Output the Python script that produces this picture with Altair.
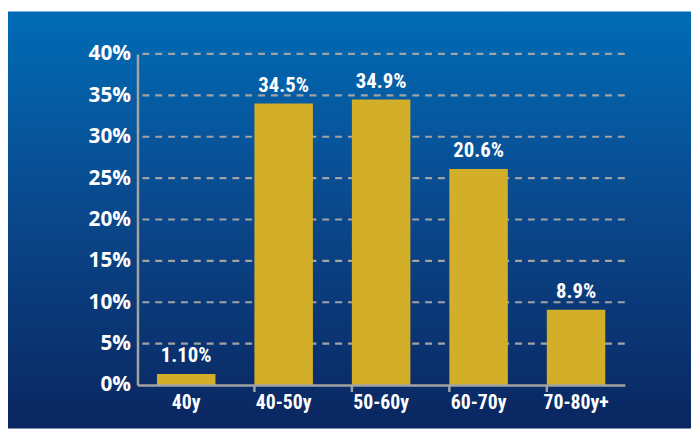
import altair as alt
import pandas as pd

categories = ["40y", "40-50y", "50-60y", "60-70y", "70-80y+"]
bar_values = [1.35, 34.0, 34.5, 26.1, 9.1]
bar_labels = ["1.10%", "34.5%", "34.9%", "20.6%", "8.9%"]
y_ticks = [0, 5, 10, 15, 20, 25, 30, 35, 40]
grid_values = [5, 10, 15, 20, 25, 30, 35, 40]
tick_categories = categories[1:]

df = pd.DataFrame({"age": categories, "value": bar_values, "label": bar_labels})
grid_df = pd.DataFrame({"v": grid_values})
tick_df = pd.DataFrame({"age": tick_categories})

W, H = 493, 335
PL, PT, PR, PB = 131, 44, 67, 44

NARROW = "Roboto Condensed, Roboto, sans-serif"
WIDE = "Open Sans, Lato, sans-serif"
AXIS_GRAY = "#a3a3a3"

yscale = alt.Scale(domain=[0, 40], nice=False, zero=True)
xscale = alt.Scale(domain=categories, paddingInner=0.4, paddingOuter=0.2)

yaxis = alt.Axis(
    title=None, values=y_ticks, labelExpr="datum.value + '%'",
    grid=False, ticks=False, labelPadding=7,
    labelFont=WIDE, labelFontSize=21, labelFontWeight="bold",
    labelColor="white", domainColor=AXIS_GRAY, domainWidth=2.5,
    zindex=1,
)
xaxis = alt.Axis(
    title=None, labelAngle=0, ticks=False, labelPadding=8,
    labelFont=NARROW, labelFontSize=20, labelFontWeight="bold",
    labelColor="white", domainColor=AXIS_GRAY, domainWidth=2.5,
    zindex=1,
)

background = alt.Chart(alt.Data(values=[{}])).mark_rect(
    color=alt.LinearGradient(
        gradient="linear",
        stops=[
            alt.GradientStop(color="#006cb6", offset=0),
            alt.GradientStop(color="#0a4a8e", offset=0.45),
            alt.GradientStop(color="#0a2660", offset=1),
        ],
        x1=0, x2=0, y1=0, y2=1,
    )
).encode(
    x=alt.value(-PL), x2=alt.value(W + PR),
    y=alt.value(-PT + 1), y2=alt.value(H + PB),
)

grid = alt.Chart(grid_df).mark_rule(
    color=AXIS_GRAY, strokeWidth=2.2, strokeDash=[7, 6]
).encode(y=alt.Y("v:Q", scale=yscale, axis=yaxis))

bars = alt.Chart(df).mark_bar(color="#d3ae28").encode(
    x=alt.X("age:N", sort=categories, scale=xscale, axis=xaxis),
    y=alt.Y("value:Q", scale=yscale, axis=yaxis),
)

text = alt.Chart(df).mark_text(
    font=NARROW, fontSize=21, fontWeight="bold", color="white",
    baseline="alphabetic", dy=-12,
).encode(
    x=alt.X("age:N", sort=categories, scale=xscale, axis=xaxis),
    y=alt.Y("value:Q", scale=yscale, axis=yaxis),
    text="label:N",
)

xticks = alt.Chart(tick_df).mark_rule(
    color=AXIS_GRAY, strokeWidth=2.5
).encode(
    x=alt.X("age:N", sort=categories, scale=xscale, axis=xaxis, bandPosition=0),
    y=alt.value(H), y2=alt.value(H + 7),
)

chart = alt.layer(background, grid, bars, text, xticks).properties(
    width=W, height=H,
    autosize=alt.AutoSizeParams(type="none"),
    padding={"left": PL, "top": PT, "right": PR, "bottom": PB},
    background="white",
).configure_view(stroke=None)

chart.save("out.html", embed_options={"renderer": "svg", "actions": False})
